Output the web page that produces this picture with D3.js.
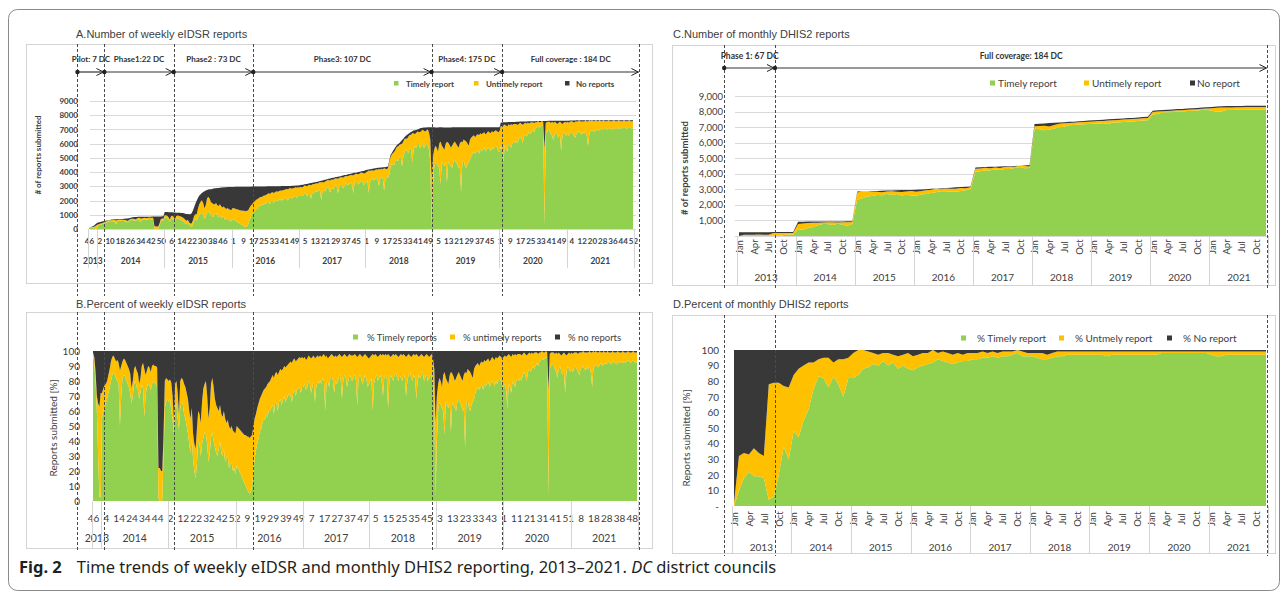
<!DOCTYPE html>
<html>
<head>
<meta charset="utf-8">
<script src="https://cdn.jsdelivr.net/npm/d3@7"></script>
<style>
body { margin: 0; background: #fff; }
</style>
</head>
<body>
<svg width="1285" height="596"></svg>
<script>
/*
    Fig. 2 - weekly eIDSR and monthly DHIS2 reporting, 2013-2021
    Four stacked area panels (counts and percentages)
*/

// ---- Categories ----
var years = ["2013", "2014", "2015", "2016", "2017", "2018", "2019", "2020", "2021"];
var weeksPerYear = [7, 52, 53, 52, 52, 52, 52, 53, 52];   // 2013 starts at week 46
var firstWeek = 46;
var monthNames = ["Jan", "Feb", "Mar", "Apr", "May", "Jun", "Jul", "Aug", "Sep", "Oct", "Nov", "Dec"];

// ---- Weekly eIDSR: expected reports (top of panel A), one row per year ----
var weeklyExpected = [
    [100,130,160,200,250,330,400],
    [450,480,500,520,540,560,580,600,620,640,650,660,670,
     680,680,690,700,700,700,710,720,720,730,740,760,780,
     800,820,840,850,850,860,860,860,870,870,870,870,870,
     870,870,870,880,880,880,880,880,880,880,880,890,890],
    [1200,1200,1190,1180,1180,1170,1170,1160,1160,1150,1150,1140,1140,
     1130,1120,1100,1080,1060,1050,1040,1030,1100,1300,1550,1800,2000,
     2200,2350,2450,2530,2600,2650,2700,2740,2770,2790,2800,2820,2840,
     2860,2870,2880,2890,2900,2910,2920,2930,2940,2940,2950,2950,2950,2960],
    [2960,2960,2970,2970,2970,2970,2970,2970,2970,2970,2970,2970,2970,
     2970,2970,2980,2980,2980,2980,2980,2980,2990,2990,2990,2990,2990,
     2990,3000,3000,3000,3000,3000,3010,3010,3010,3010,3010,3010,3020,
     3020,3020,3020,3020,3030,3030,3030,3040,3040,3040,3050,3050,3060],
    [3080,3090,3110,3120,3150,3160,3170,3200,3210,3230,3260,3270,3290,
     3310,3330,3340,3380,3400,3410,3450,3470,3480,3520,3540,3550,3580,
     3600,3610,3650,3660,3680,3700,3710,3750,3760,3790,3800,3820,3850,
     3870,3880,3900,3930,3950,3960,3980,4010,4020,4050,4070,4080,4110],
    [4150,4170,4190,4200,4220,4240,4260,4280,4290,4300,4310,4320,4330,
     4340,4350,4360,4370,4400,4800,5200,5340,5500,5650,5780,5900,5980,
     6050,6150,6250,6350,6470,6550,6620,6700,6760,6820,6880,6920,6950,
     6960,7000,7040,7080,7100,7120,7130,7140,7140,7150,7150,7150,7150],
    [7150,7150,7140,7140,7140,7150,7150,7150,7140,7140,7140,7140,7140,
     7140,7140,7150,7150,7150,7150,7150,7150,7150,7150,7150,7150,7150,
     7150,7150,7150,7150,7150,7160,7160,7160,7160,7160,7160,7160,7160,
     7160,7160,7160,7160,7160,7160,7160,7160,7160,7160,7160,7160,7160],
    [7160,7480,7490,7500,7500,7510,7510,7520,7520,7520,7530,7530,7530,
     7540,7540,7540,7550,7550,7550,7560,7560,7560,7570,7570,7570,7570,
     7580,7580,7580,7590,7590,7590,7590,7600,7600,7600,7600,7600,7610,
     7610,7610,7610,7610,7610,7620,7620,7620,7620,7620,7620,7620,7620,7620],
    [7620,7620,7630,7630,7630,7630,7630,7640,7640,7640,7640,7640,7640,
     7640,7640,7640,7640,7650,7650,7650,7650,7650,7650,7650,7650,7650,
     7650,7650,7650,7650,7650,7650,7650,7650,7650,7650,7650,7650,7650,
     7650,7650,7650,7650,7650,7650,7650,7650,7650,7650,7650,7650,7650]
];

// ---- Weekly eIDSR: % timely reports ----
var weeklyTimelyPct = [
    [97,92,80,60,30,3,2],
    [55,60,62,65,68,72,76,80,84,86,84,82,80,
     78,50,70,82,84,83,80,78,76,72,65,70,78,
     80,76,74,68,72,78,75,56,70,76,78,77,74,
     78,80,79,78,76,2,0,0,1,30,62,66,68],
    [66,68,60,55,45,62,65,55,48,62,66,64,58,
     55,50,45,38,32,42,28,20,15,25,40,38,30,
     38,42,46,44,38,26,32,42,46,40,36,32,30,
     35,40,32,30,35,26,28,30,22,24,26,20,22,18],
    [24,22,20,18,16,14,12,10,8,6,5,6,10,
     20,28,34,38,42,46,48,52,55,54,58,56,60,
     60,62,64,58,66,65,60,66,68,64,67,70,66,
     68,70,72,70,66,72,74,70,74,75,76,72,76],
    [76,78,74,76,80,78,72,76,80,66,76,80,78,
     80,78,82,80,60,78,80,76,82,84,80,72,80,
     78,80,84,82,68,80,84,82,76,80,84,82,80,
     82,84,80,64,82,84,82,78,80,84,82,76,78],
    [80,82,60,78,82,84,80,82,84,80,70,82,84,
     82,62,80,84,82,80,84,86,82,80,84,82,80,
     84,82,70,80,84,86,82,80,84,82,68,80,84,
     82,84,86,80,82,84,80,82,84,82,78,66,4],
    [40,60,66,64,62,60,44,66,64,62,66,46,66,
     64,62,60,66,68,66,64,60,62,36,66,68,62,
     60,64,66,68,72,74,76,74,76,78,74,78,76,
     78,80,76,78,80,79,76,80,78,80,82,80,76],
    [76,78,74,62,78,76,72,80,78,76,80,82,80,
     82,80,84,86,84,80,86,88,86,88,90,88,90,
     92,90,93,94,95,94,95,96,95,3,88,90,92,
     90,88,86,82,88,90,86,84,88,72,86,90,88,86],
    [88,86,88,90,88,86,84,88,89,90,88,87,89,
     88,90,86,76,88,90,91,90,89,91,92,90,91,
     92,91,92,93,92,91,92,93,92,91,93,92,92,
     93,92,93,92,93,94,93,92,93,94,93,92,93]
];

// ---- Weekly eIDSR: % untimely reports ----
var weeklyUntimelyPct = [
    [2,4,6,10,35,60,70],
    [17,15,15,13,12,12,12,13,12,11,11,11,14,
     14,37,20,11,11,11,12,12,12,13,10,10,10,
     10,11,11,10,10,12,17,32,14,11,12,12,12,
     12,11,11,12,13,20,22,20,19,15,18,16,13],
    [14,13,19,15,10,16,15,17,10,18,16,17,20,
     21,22,23,22,23,20,17,18,20,23,20,20,22,
     28,33,32,36,32,29,30,36,36,36,32,32,32,
     25,24,26,26,25,29,24,24,28,24,24,27,24,27],
    [26,27,28,29,30,31,32,34,35,37,37,37,34,
     30,27,24,24,23,22,22,20,19,21,18,22,19,
     20,20,20,24,19,21,24,20,20,23,21,20,23,
     22,21,20,23,26,22,21,23,20,20,20,23,20],
    [19,18,20,19,17,18,23,20,17,29,20,17,18,
     17,18,15,18,36,19,15,20,15,14,17,24,17,
     18,17,14,15,28,17,14,15,20,17,14,15,17,
     15,14,17,32,15,14,15,18,17,14,15,20,17],
    [16,15,38,19,16,13,16,15,14,17,28,15,14,
     15,36,17,12,15,18,13,12,15,16,13,16,17,
     14,15,26,17,14,11,14,17,14,15,30,17,12,
     15,14,11,16,15,14,17,14,13,16,17,22,48],
    [30,18,16,16,14,24,42,16,16,16,18,40,19,
     19,18,22,18,18,18,18,20,22,50,19,20,25,
     26,20,16,20,18,17,16,16,16,15,18,16,17,
     16,15,17,16,16,16,18,16,17,16,15,16,19],
    [20,19,22,35,20,21,24,18,19,22,17,16,18,
     16,17,14,13,14,17,12,11,12,11,8,11,9,
     7,8,6,5,5,5,4,4,4,71,10,9,7,
     9,10,13,16,11,8,11,14,11,26,11,8,11,12],
    [11,12,11,9,11,12,15,11,10,10,11,12,10,
     11,10,13,23,12,9,9,9,10,9,7,9,9,
     7,8,8,6,7,8,8,6,7,8,7,7,7,
     6,8,6,7,6,6,6,7,6,6,6,7,6]
];

// ---- Monthly DHIS2 (Jan..Dec per row) ----
var monthlyExpected = [
    [240,240,240,240,240,240,240,250,250,250,250,250],
    [920,920,925,925,930,930,935,935,940,940,945,950],
    [2860,2870,2880,2890,2900,2905,2920,2930,2935,2950,2955,2960],
    [2970,2990,3000,3030,3050,3060,3090,3100,3130,3150,3160,3190],
    [4410,4420,4430,4445,4450,4460,4480,4490,4500,4520,4540,4560],
    [7200,7220,7235,7260,7280,7290,7320,7340,7350,7380,7400,7420],
    [7440,7460,7470,7500,7520,7530,7560,7580,7590,7620,7650,7670],
    [8050,8080,8100,8110,8140,8160,8170,8200,8220,8230,8260,8280],
    [8300,8320,8340,8350,8350,8360,8360,8370,8370,8380,8380,8380]
];
var monthlyTimelyPct = [
    [0,10,18,22,19,19,18,4,6,20,38,30],
    [48,44,55,62,75,83,82,76,83,78,70,82],
    [82,84,88,89,91,90,93,90,92,88,90,88],
    [87,89,90,91,92,94,93,92,91,92,93,93],
    [94,94,95,95,96,95,96,96,97,98,96,96],
    [96,95,94,94,95,96,96,97,97,97,97,97],
    [97,97,97,96,97,97,97,97,97,97,97,97],
    [97,97,98,98,98,98,98,98,98,98,98,98],
    [97,96,96,97,97,97,97,97,97,97,97,97]
];
var monthlyUntimelyPct = [
    [2,22,16,11,18,15,14,74,73,59,39,46],
    [36,44,35,30,17,11,13,19,9,16,24,13],
    [16,16,12,10,7,7,5,8,5,8,7,10],
    [9,8,8,7,8,4,6,6,6,6,4,5],
    [4,4,4,3,3,3,3,3,2,2,3,2],
    [2,3,4,3,3,3,3,2,2,2,2,2],
    [2,2,2,3,2,2,2,2,2,2,2,2],
    [2,2,1,1,1,1,1,1,1,1,1,1],
    [2,3,3,2,2,2,2,2,2,2,2,2]
];

// ---- Roll-out phases (start in weeks from 2013 wk46 / months from Jan 2013) ----
var weeklyPhaseLabels = ["Pilot: 7 DC", "Phase1:22 DC", "Phase2 : 73 DC", "Phase3:  107 DC", "Phase4:  175 DC", "Full coverage : 184 DC"];
var weeklyPhaseStarts = [-9, 12, 66, 128, 267, 322, 429];
var monthlyPhaseLabels = ["Phase 1: 67 DC", "Full coverage: 184 DC"];
var monthlyPhaseStarts = [-3, 7.3, 107.3];

// ---- Settings ----
var svg = d3.select("svg");
var colors = {timely: "#92d050", untimely: "#ffc000", none: "#383838"};
var chartFont = "Lato, 'Open Sans', sans-serif";
var titleFont = "'Liberation Sans', Arial, sans-serif";
var textColor = "#404040";

// flatten rows and build the weekly categories
var wExp = d3.merge(weeklyExpected), wT = d3.merge(weeklyTimelyPct), wU = d3.merge(weeklyUntimelyPct);
var mExp = d3.merge(monthlyExpected), mT = d3.merge(monthlyTimelyPct), mU = d3.merge(monthlyUntimelyPct);
var weeks = [];
years.forEach(function(y, k) {
    for (var w = 0; w < weeksPerYear[k]; w++) {
        weeks.push({year: y, week: (k == 0 ? firstWeek : 1) + w});
    }
});

var xA = d3.scaleLinear().domain([0, weeks.length - 1]).range([89, 633]),
    xB = d3.scaleLinear().domain([0, weeks.length - 1]).range([93, 637]),
    xC = d3.scaleLinear().domain([0, mT.length - 1]).range([739, 1266]),
    xD = d3.scaleLinear().domain([0, mT.length - 1]).range([734, 1266]);
var yA = d3.scaleLinear().domain([0, 9000]).range([229, 101]),
    yB = d3.scaleLinear().domain([0, 100]).range([501, 351]),
    yC = d3.scaleLinear().domain([0, 9000]).range([236, 96]),
    yD = d3.scaleLinear().domain([0, 100]).range([506, 350]);

var defs = svg.append("defs");
defs.append("marker").attr("id", "dot").attr("viewBox", "-3 -3 6 6")
    .attr("markerWidth", 6).attr("markerHeight", 6).attr("markerUnits", "userSpaceOnUse")
    .append("circle").attr("r", 2.2).attr("fill", "#222");
defs.append("marker").attr("id", "head").attr("viewBox", "-8 -5 9 10")
    .attr("markerWidth", 9).attr("markerHeight", 10).attr("markerUnits", "userSpaceOnUse")
    .attr("orient", "auto")
    .append("path").attr("d", "M-7,-3.5L0,0L-7,3.5").attr("fill", "none")
    .attr("stroke", "#222").attr("stroke-width", 1);

// Stack rows: counts when total given, else percentages
function stackRows(total, tPct, uPct) {
    var rows = tPct.map(function(t, i) {
        var tot = total ? total[i] : 100;
        var tv = tot * t / 100, uv = tot * uPct[i] / 100;
        return {timely: tv, untimely: uv, none: Math.max(0, tot - tv - uv)};
    });
    return d3.stack().keys(["timely", "untimely", "none"])(rows);
}

function drawBox(b) {
    svg.append("rect")
        .attr("x", b[0] + 0.5).attr("y", b[1] + 0.5)
        .attr("width", b[2] - b[0]).attr("height", b[3] - b[1])
        .attr("fill", "none").attr("stroke", "#d4d4d4");
}

function drawText(t, x, y, size, opts) {
    opts = opts || {};
    var el = svg.append("text").attr("x", x).attr("y", y).text(t)
        .attr("font-family", opts.family || chartFont)
        .attr("font-size", size)
        .attr("font-weight", opts.bold ? "bold" : "normal")
        .attr("text-anchor", opts.anchor || "start")
        .attr("fill", opts.fill || textColor);
    if (opts.rotate) el.attr("transform", "rotate(-90," + x + "," + y + ")");
    return el;
}

function drawAreas(series, x, y) {
    var area = d3.area()
        .x(function(d, i) { return x(i); })
        .y0(function(d) { return y(d[0]); })
        .y1(function(d) { return y(d[1]); });
    svg.append("g").selectAll("path")
        .data(series)
        .enter().append("path")
        .attr("d", area)
        .attr("fill", function(s) { return colors[s.key]; });
}

function drawYAxis(y, ticks, fmt, xRight, size, bold, grid) {
    if (grid) {
        svg.append("g").selectAll("line")
            .data(ticks)
            .enter().append("line")
            .attr("x1", grid[0]).attr("x2", grid[1])
            .attr("y1", function(d) { return Math.round(y(d)) + 0.5; })
            .attr("y2", function(d) { return Math.round(y(d)) + 0.5; })
            .attr("stroke", "#d9d9d9");
    }
    var g = svg.append("g").attr("transform", "translate(" + xRight + ",0)")
        .call(d3.axisLeft(y).tickValues(ticks).tickFormat(fmt).tickSize(0).tickPadding(0));
    g.select(".domain").remove();
    g.selectAll("text").attr("fill", textColor)
        .attr("font-family", chartFont).attr("font-size", size)
        .attr("font-weight", bold ? "bold" : "normal");
}

function separator(x, y1, y2) {
    svg.append("line")
        .attr("x1", Math.round(x) + 0.5).attr("x2", Math.round(x) + 0.5)
        .attr("y1", y1).attr("y2", y2)
        .attr("stroke", "#d4d4d4");
}

// weekly category axis: week numbers every `step` weeks, years underneath
function drawWeekAxis(x, step, base, yearBase, sepTop, sepBottom, size, yearSize, bold) {
    var g = svg.append("g").attr("transform", "translate(0," + base + ")")
        .call(d3.axisBottom(x)
            .tickValues(d3.range(0, weeks.length, step))
            .tickFormat(function(i) { return weeks[i].week; })
            .tickSize(0).tickPadding(0));
    g.select(".domain").remove();
    g.selectAll("text").attr("y", 0).attr("dy", 0).attr("fill", textColor)
        .attr("font-family", chartFont).attr("font-size", size)
        .attr("font-weight", bold ? "bold" : "normal");

    var start = 0;
    years.forEach(function(yr, k) {
        var end = start + weeksPerYear[k];
        drawText(yr, x((start + end - 1) / 2), yearBase, yearSize, {anchor: "middle", bold: bold});
        separator(x(start - 0.5), sepTop, sepBottom);
        start = end;
    });
    separator(x(start - 0.5), sepTop, sepBottom);
}

// monthly category axis: Jan/Apr/Jul/Oct rotated, years underneath
function drawMonthAxis(x, center, yearBase, sepTop, sepBottom) {
    var g = svg.append("g").attr("transform", "translate(0," + center + ")")
        .call(d3.axisBottom(x)
            .tickValues(d3.range(0, mT.length, 3))
            .tickFormat(function(m) { return monthNames[m % 12]; })
            .tickSize(0).tickPadding(0));
    g.select(".domain").remove();
    g.selectAll("text").attr("y", 0).attr("dy", "0.35em")
        .attr("text-anchor", "middle").attr("transform", "rotate(-90)")
        .attr("fill", textColor).attr("font-family", chartFont).attr("font-size", 9.5);

    years.forEach(function(yr, k) {
        drawText(yr, x(12 * k + 5.5), yearBase, 10, {anchor: "middle"});
        separator(x(12 * k - 0.5), sepTop, sepBottom);
    });
    separator(x(12 * years.length - 0.5), sepTop, sepBottom);
}

function drawDashes(xs, y1, y2) {
    svg.append("g").selectAll("line")
        .data(xs)
        .enter().append("line")
        .attr("x1", function(d) { return Math.round(d) + 0.5; })
        .attr("x2", function(d) { return Math.round(d) + 0.5; })
        .attr("y1", y1).attr("y2", y2)
        .attr("stroke", "#4a4a4a").attr("stroke-dasharray", "3,2");
}

function drawPhases(x, labels, starts, textY, arrowY, size) {
    labels.forEach(function(lbl, k) {
        var a = x(starts[k]), b = x(starts[k + 1]);
        svg.append("line")
            .attr("x1", a).attr("x2", b - 1)
            .attr("y1", arrowY).attr("y2", arrowY)
            .attr("stroke", "#333").attr("stroke-width", 1.2)
            .attr("marker-start", "url(#dot)").attr("marker-end", "url(#head)");
        drawText(lbl, (a + b) / 2, textY, size, {anchor: "middle", bold: true, fill: "#333"});
    });
}

function drawLegend(items, y, size, sq, bold) {
    items.forEach(function(it) {
        svg.append("rect").attr("x", it.sx).attr("y", y - sq + 0.5)
            .attr("width", sq).attr("height", sq).attr("fill", colors[it.key]);
        drawText(it.label, it.tx, y + 1.5, size, {bold: bold});
    });
}

// ---- Outer frame and caption ----
svg.append("rect").attr("x", 8.5).attr("y", 9.5).attr("width", 1271).attr("height", 581)
    .attr("rx", 9).attr("fill", "none").attr("stroke", "#8a8a8a");

var cap = svg.append("text").attr("x", 19).attr("y", 573)
    .attr("font-family", "'Noto Sans', 'Open Sans', sans-serif").attr("font-size", 16.5).attr("fill", "#231f20");
cap.append("tspan").attr("font-weight", "bold").text("Fig. 2");
cap.append("tspan").attr("dx", 15).text("Time trends of weekly eIDSR and monthly DHIS2 reporting, 2013\u20132021. ");
cap.append("tspan").attr("font-style", "italic").text("DC");
cap.append("tspan").text(" district councils");

// ---- Panel A: number of weekly eIDSR reports ----
drawText("A.Number of weekly eIDSR reports", 76, 38, 11, {family: titleFont});
drawBox([26, 44, 652, 283]);
drawYAxis(yA, d3.range(0, 9001, 1000), function(d) { return d; }, 78, 8, true, [90, 636]);
drawAreas(stackRows(wExp, wT, wU), xA, yA);
drawWeekAxis(xA, 8, 244, 264, 229, 268, 8, 8.5, true);
drawText("# of reports submitted", 41, 155, 8, {anchor: "middle", bold: true, rotate: true});
drawDashes(weeklyPhaseStarts.map(xA), 44, 296);
drawPhases(xA, weeklyPhaseLabels, weeklyPhaseStarts, 62, 72, 8);
drawLegend([
    {key: "timely", label: "Timely report", sx: 394, tx: 406},
    {key: "untimely", label: "Untimely report", sx: 474, tx: 486},
    {key: "none", label: "No reports", sx: 565, tx: 576}
], 85, 8, 4.5, true);

// ---- Panel B: percent of weekly eIDSR reports ----
drawText("B.Percent of weekly eIDSR reports", 76, 308, 11, {family: titleFont});
drawBox([26, 312, 652, 548]);
drawYAxis(yB, d3.range(0, 101, 10), function(d) { return d; }, 80, 10, false, null);
drawAreas(stackRows(null, wT, wU), xB, yB);
drawWeekAxis(xB, 10, 522, 542, 501, 548, 10, 10.5, false);
drawText("Reports submitted [%]", 57, 428, 10, {anchor: "middle", rotate: true});
drawDashes(weeklyPhaseStarts.map(xA), 312, 552);
drawLegend([
    {key: "timely", label: "% Timely reports", sx: 353, tx: 367},
    {key: "untimely", label: "% untimely reports", sx: 450, tx: 463},
    {key: "none", label: "% no reports", sx: 555, tx: 568}
], 339, 9.5, 5, false);

// ---- Panel C: number of monthly DHIS2 reports ----
drawText("C.Number of monthly DHIS2 reports", 673, 38, 11, {family: titleFont});
drawBox([672, 45, 1275, 285]);
drawYAxis(yC, d3.range(0, 9001, 1000), function(d) { return d == 0 ? "-" : d3.format(",")(d); }, 723, 9.5, false, [735, 1267]);
drawAreas(stackRows(mExp, mT, mU), xC, yC);
drawMonthAxis(xC, 247, 281, 236, 285);
drawText("# of reports submitted", 688, 168, 9.5, {anchor: "middle", bold: true, rotate: true});
drawDashes(monthlyPhaseStarts.map(xC), 45, 290);
drawPhases(xC, monthlyPhaseLabels, monthlyPhaseStarts, 59, 68, 8.5);
drawLegend([
    {key: "timely", label: "Timely report", sx: 990, tx: 998},
    {key: "untimely", label: "Untimely report", sx: 1084, tx: 1092},
    {key: "none", label: "No report", sx: 1190, tx: 1197}
], 85, 10, 5, false);

// ---- Panel D: percent of monthly DHIS2 reports ----
drawText("D.Percent of monthly DHIS2 reports", 673, 308, 11, {family: titleFont});
drawBox([672, 315, 1275, 553]);
drawYAxis(yD, d3.range(0, 101, 10), function(d) { return d == 0 ? "-" : d; }, 719, 10, false, null);
drawAreas(stackRows(null, mT, mU), xD, yD);
drawMonthAxis(xD, 519, 551, 506, 553);
drawText("Reports submitted [%]", 690, 438, 10, {anchor: "middle", rotate: true});
drawDashes(monthlyPhaseStarts.map(xC), 315, 556);
drawLegend([
    {key: "timely", label: "% Timely report", sx: 961, tx: 977},
    {key: "untimely", label: "% Untmely report", sx: 1059, tx: 1075},
    {key: "none", label: "% No report", sx: 1167, tx: 1183}
], 340, 10, 5, false);
</script>
</body>
</html>
